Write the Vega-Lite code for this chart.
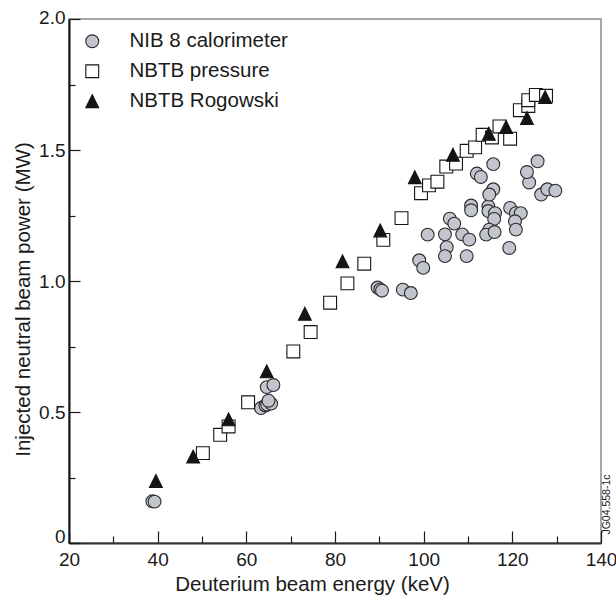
{
  "$schema": "https://vega.github.io/schema/vega-lite/v6.json",
  "width": 532,
  "height": 524,
  "autosize": {"type": "none"},
  "padding": {"left": 69, "top": 19, "right": 15, "bottom": 55},
  "background": "white",
  "config": {
    "font": "Liberation Sans",
    "view": {"stroke": "#8a8a8a", "strokeWidth": 1.5},
    "axis": {
      "grid": false,
      "labelFont": "Liberation Sans",
      "labelFontSize": 19,
      "labelColor": "#1a1a1a",
      "titleFont": "Liberation Sans",
      "titleFontSize": 20.5,
      "titleFontWeight": "normal",
      "titleColor": "#1a1a1a",
      "tickColor": "#1a1a1a",
      "tickWidth": 1.2,
      "labelFlush": false,
      "labelOverlap": false,
      "labelBound": false
    },
    "legend": {
      "labelFont": "Liberation Sans",
      "labelFontSize": 20.5,
      "labelColor": "#1a1a1a",
      "symbolSize": 165,
      "symbolStrokeWidth": 1.1,
      "labelOffset": 27,
      "rowPadding": 9,
      "padding": 0
    }
  },
  "datasets": {
    "points": [
      {"series": "NIB 8 calorimeter", "energy": 38.8, "power": 0.159},
      {"series": "NIB 8 calorimeter", "energy": 39.3, "power": 0.158},
      {"series": "NIB 8 calorimeter", "energy": 63.3, "power": 0.515},
      {"series": "NIB 8 calorimeter", "energy": 64.3, "power": 0.525},
      {"series": "NIB 8 calorimeter", "energy": 64.7, "power": 0.528},
      {"series": "NIB 8 calorimeter", "energy": 65.6, "power": 0.532},
      {"series": "NIB 8 calorimeter", "energy": 65.0, "power": 0.543},
      {"series": "NIB 8 calorimeter", "energy": 64.6, "power": 0.595},
      {"series": "NIB 8 calorimeter", "energy": 66.1, "power": 0.603},
      {"series": "NIB 8 calorimeter", "energy": 89.6, "power": 0.975},
      {"series": "NIB 8 calorimeter", "energy": 90.2, "power": 0.968},
      {"series": "NIB 8 calorimeter", "energy": 90.6, "power": 0.963},
      {"series": "NIB 8 calorimeter", "energy": 95.3, "power": 0.967},
      {"series": "NIB 8 calorimeter", "energy": 97.1, "power": 0.954},
      {"series": "NIB 8 calorimeter", "energy": 99.0, "power": 1.079},
      {"series": "NIB 8 calorimeter", "energy": 99.9, "power": 1.05},
      {"series": "NIB 8 calorimeter", "energy": 100.9, "power": 1.177},
      {"series": "NIB 8 calorimeter", "energy": 104.8, "power": 1.178},
      {"series": "NIB 8 calorimeter", "energy": 105.2, "power": 1.129},
      {"series": "NIB 8 calorimeter", "energy": 104.8, "power": 1.095},
      {"series": "NIB 8 calorimeter", "energy": 105.9, "power": 1.238},
      {"series": "NIB 8 calorimeter", "energy": 106.9, "power": 1.219},
      {"series": "NIB 8 calorimeter", "energy": 108.7, "power": 1.178},
      {"series": "NIB 8 calorimeter", "energy": 110.3, "power": 1.158},
      {"series": "NIB 8 calorimeter", "energy": 109.7, "power": 1.095},
      {"series": "NIB 8 calorimeter", "energy": 110.7, "power": 1.288},
      {"series": "NIB 8 calorimeter", "energy": 110.7, "power": 1.27},
      {"series": "NIB 8 calorimeter", "energy": 112.0, "power": 1.41},
      {"series": "NIB 8 calorimeter", "energy": 112.9, "power": 1.397},
      {"series": "NIB 8 calorimeter", "energy": 114.6, "power": 1.285},
      {"series": "NIB 8 calorimeter", "energy": 114.6, "power": 1.267},
      {"series": "NIB 8 calorimeter", "energy": 116.1, "power": 1.259},
      {"series": "NIB 8 calorimeter", "energy": 115.9, "power": 1.237},
      {"series": "NIB 8 calorimeter", "energy": 114.8, "power": 1.196},
      {"series": "NIB 8 calorimeter", "energy": 114.1, "power": 1.177},
      {"series": "NIB 8 calorimeter", "energy": 116.0, "power": 1.187},
      {"series": "NIB 8 calorimeter", "energy": 115.7, "power": 1.446},
      {"series": "NIB 8 calorimeter", "energy": 115.7, "power": 1.35},
      {"series": "NIB 8 calorimeter", "energy": 114.8, "power": 1.33},
      {"series": "NIB 8 calorimeter", "energy": 119.5, "power": 1.279},
      {"series": "NIB 8 calorimeter", "energy": 120.8, "power": 1.259},
      {"series": "NIB 8 calorimeter", "energy": 121.9, "power": 1.259},
      {"series": "NIB 8 calorimeter", "energy": 120.6, "power": 1.228},
      {"series": "NIB 8 calorimeter", "energy": 120.8, "power": 1.196},
      {"series": "NIB 8 calorimeter", "energy": 119.3, "power": 1.126},
      {"series": "NIB 8 calorimeter", "energy": 123.8, "power": 1.376},
      {"series": "NIB 8 calorimeter", "energy": 123.3, "power": 1.416},
      {"series": "NIB 8 calorimeter", "energy": 125.7, "power": 1.457},
      {"series": "NIB 8 calorimeter", "energy": 126.5, "power": 1.33},
      {"series": "NIB 8 calorimeter", "energy": 127.9, "power": 1.35},
      {"series": "NIB 8 calorimeter", "energy": 129.7, "power": 1.345},
      {"series": "NBTB pressure", "energy": 50.2, "power": 0.343},
      {"series": "NBTB pressure", "energy": 54.1, "power": 0.413},
      {"series": "NBTB pressure", "energy": 56.0, "power": 0.445},
      {"series": "NBTB pressure", "energy": 60.4, "power": 0.537},
      {"series": "NBTB pressure", "energy": 70.6, "power": 0.731},
      {"series": "NBTB pressure", "energy": 74.5, "power": 0.805},
      {"series": "NBTB pressure", "energy": 78.9, "power": 0.917},
      {"series": "NBTB pressure", "energy": 82.8, "power": 0.991},
      {"series": "NBTB pressure", "energy": 86.6, "power": 1.066},
      {"series": "NBTB pressure", "energy": 90.9, "power": 1.157},
      {"series": "NBTB pressure", "energy": 95.0, "power": 1.24},
      {"series": "NBTB pressure", "energy": 99.4, "power": 1.335},
      {"series": "NBTB pressure", "energy": 101.2, "power": 1.365},
      {"series": "NBTB pressure", "energy": 103.1, "power": 1.379},
      {"series": "NBTB pressure", "energy": 105.1, "power": 1.437},
      {"series": "NBTB pressure", "energy": 107.3, "power": 1.448},
      {"series": "NBTB pressure", "energy": 109.7, "power": 1.497},
      {"series": "NBTB pressure", "energy": 111.6, "power": 1.51},
      {"series": "NBTB pressure", "energy": 113.3, "power": 1.558},
      {"series": "NBTB pressure", "energy": 115.4, "power": 1.548},
      {"series": "NBTB pressure", "energy": 117.1, "power": 1.59},
      {"series": "NBTB pressure", "energy": 119.5, "power": 1.543},
      {"series": "NBTB pressure", "energy": 121.7, "power": 1.652},
      {"series": "NBTB pressure", "energy": 123.6, "power": 1.668},
      {"series": "NBTB pressure", "energy": 123.6, "power": 1.69},
      {"series": "NBTB pressure", "energy": 125.3, "power": 1.71},
      {"series": "NBTB pressure", "energy": 127.6, "power": 1.707},
      {"series": "NBTB Rogowski", "energy": 39.6, "power": 0.237},
      {"series": "NBTB Rogowski", "energy": 48.0, "power": 0.33},
      {"series": "NBTB Rogowski", "energy": 56.0, "power": 0.472},
      {"series": "NBTB Rogowski", "energy": 64.6, "power": 0.655},
      {"series": "NBTB Rogowski", "energy": 73.2, "power": 0.875},
      {"series": "NBTB Rogowski", "energy": 81.7, "power": 1.075},
      {"series": "NBTB Rogowski", "energy": 90.2, "power": 1.193},
      {"series": "NBTB Rogowski", "energy": 98.0, "power": 1.396},
      {"series": "NBTB Rogowski", "energy": 106.6, "power": 1.482},
      {"series": "NBTB Rogowski", "energy": 114.7, "power": 1.562},
      {"series": "NBTB Rogowski", "energy": 118.6, "power": 1.588},
      {"series": "NBTB Rogowski", "energy": 123.3, "power": 1.622},
      {"series": "NBTB Rogowski", "energy": 127.4, "power": 1.702}
    ],
    "stamp": [
      {"energy": 141.4, "power": 0.032, "label": "JG04.558-1c"}
    ]
  },
  "layer": [
    {
      "data": {"name": "points"},
      "mark": {"type": "point", "filled": true, "size": 165, "strokeWidth": 1.1, "opacity": 1},
      "encoding": {
        "x": {
          "field": "energy",
          "type": "quantitative",
          "scale": {"domain": [20, 140], "nice": false, "zero": false},
          "axis": {
            "title": "Deuterium beam energy (keV)",
            "values": [20, 30, 40, 50, 60, 70, 80, 90, 100, 110, 120, 130, 140],
            "labelExpr": "datum.value % 20 == 0 ? datum.label : ''",
            "tickSize": {"condition": {"test": "datum.value % 20 == 0", "value": -12}, "value": -7},
            "labelPadding": 19,
            "domainColor": "#333333",
            "domainWidth": 2,
            "titleX": 243,
            "titleY": 47,
            "titleBaseline": "alphabetic"
          }
        },
        "y": {
          "field": "power",
          "type": "quantitative",
          "scale": {"domain": [0, 2], "nice": false},
          "axis": {
            "title": "Injected neutral beam power (MW)",
            "values": [0, 0.25, 0.5, 0.75, 1, 1.25, 1.5, 1.75, 2],
            "labelExpr": "datum.value == 0 ? '0' : ((datum.value * 2) % 1 == 0 ? format(datum.value, '.1f') : '')",
            "tickSize": {"condition": {"test": "(datum.value * 2) % 1 == 0", "value": -11}, "value": -6},
            "labelOffset": {"condition": [{"test": "datum.value == 0", "value": -7}, {"test": "datum.value == 2", "value": -2}], "value": 0},
            "labelPadding": 15,
            "domainColor": "#111111",
            "domainWidth": 2,
            "titleX": -46,
            "titleY": 280,
            "titleBaseline": "middle"
          }
        },
        "shape": {
          "field": "series",
          "type": "nominal",
          "scale": {"domain": ["NIB 8 calorimeter", "NBTB pressure", "NBTB Rogowski"], "range": ["circle", "square", "M0,-1L1,1L-1,1Z"]},
          "legend": {"title": null, "orient": "none", "legendX": 13, "legendY": 12}
        },
        "fill": {
          "field": "series",
          "type": "nominal",
          "scale": {"domain": ["NIB 8 calorimeter", "NBTB pressure", "NBTB Rogowski"], "range": ["#c2c5cd", "#ffffff", "#141414"]},
          "legend": {"title": null, "orient": "none", "legendX": 13, "legendY": 12}
        },
        "stroke": {
          "field": "series",
          "type": "nominal",
          "scale": {"domain": ["NIB 8 calorimeter", "NBTB pressure", "NBTB Rogowski"], "range": ["#2b2b2b", "#141414", "#141414"]},
          "legend": {"title": null, "orient": "none", "legendX": 13, "legendY": 12}
        }
      }
    },
    {
      "data": {"name": "stamp"},
      "mark": {"type": "text", "angle": 270, "align": "left", "baseline": "middle", "fontSize": 10.5, "font": "Liberation Sans", "color": "#1a1a1a", "clip": false},
      "encoding": {
        "x": {"field": "energy", "type": "quantitative", "scale": {"domain": [20, 140], "nice": false, "zero": false}},
        "y": {"field": "power", "type": "quantitative", "scale": {"domain": [0, 2], "nice": false}},
        "text": {"field": "label", "type": "nominal"}
      }
    }
  ]
}
